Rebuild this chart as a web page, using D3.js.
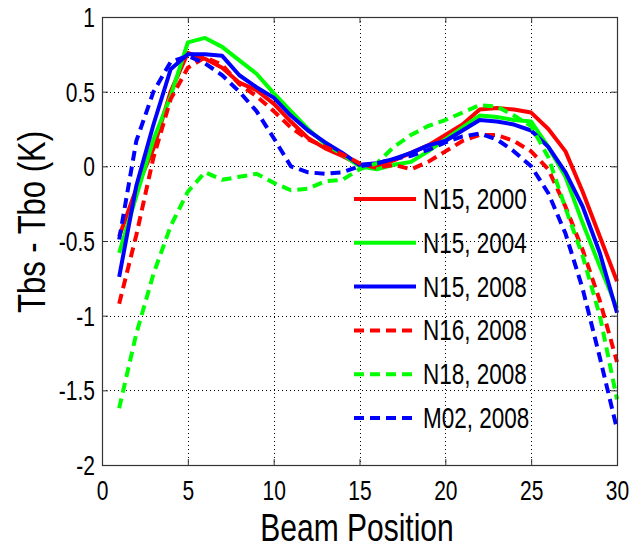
<!DOCTYPE html>
<html>
<head>
<meta charset="utf-8">
<script src="https://cdn.jsdelivr.net/npm/d3@7"></script>
<style>
  html, body { margin: 0; padding: 0; background: #fff; }
  svg { display: block; }
  text { font-family: "Liberation Sans", Arial, Helvetica, sans-serif; fill: #000; }
</style>
</head>
<body>
<svg id="chart" width="633" height="549"></svg>
<script>
// Beam positions 1..30
const beams = d3.range(1, 31);

// Tbs - Tbo (K) per beam position
const n15_2000 = [-0.47, -0.15, 0.12, 0.50, 0.76, 0.72, 0.66, 0.56, 0.51, 0.42,
                  0.30, 0.19, 0.12, 0.07, 0.01, 0.00, 0.04, 0.09, 0.14, 0.21,
                  0.28, 0.38, 0.39, 0.38, 0.36, 0.25, 0.10, -0.17, -0.47, -0.77];
const n15_2004 = [-0.58, -0.20, 0.18, 0.47, 0.83, 0.86, 0.80, 0.71, 0.62, 0.49,
                  0.37, 0.25, 0.15, 0.08, 0.00, -0.02, 0.01, 0.03, 0.10, 0.18,
                  0.26, 0.34, 0.33, 0.31, 0.30, 0.13, -0.07, -0.38, -0.67, -0.95];
const n15_2008 = [-0.74, -0.13, 0.28, 0.65, 0.75, 0.75, 0.74, 0.61, 0.53, 0.46,
                  0.34, 0.24, 0.16, 0.09, 0.01, 0.02, 0.05, 0.09, 0.14, 0.17,
                  0.24, 0.31, 0.30, 0.28, 0.24, 0.13, -0.04, -0.27, -0.58, -0.98];
const n16_2008 = [-0.92, -0.46, 0.06, 0.45, 0.66, 0.73, 0.68, 0.55, 0.47, 0.37,
                  0.26, 0.18, 0.13, 0.08, 0.02, -0.01, 0.01, -0.02, 0.03, 0.10,
                  0.17, 0.21, 0.21, 0.17, 0.10, -0.02, -0.27, -0.56, -0.90, -1.31];
const n18_2008 = [-1.62, -1.12, -0.72, -0.40, -0.17, -0.04, -0.09, -0.07, -0.05, -0.11,
                  -0.16, -0.15, -0.10, -0.09, -0.02, 0.02, 0.13, 0.21, 0.27, 0.31,
                  0.36, 0.41, 0.40, 0.34, 0.27, 0.06, -0.28, -0.60, -1.00, -1.56];
const m02_2008 = [-0.49, 0.17, 0.50, 0.70, 0.74, 0.69, 0.61, 0.50, 0.37, 0.19,
                  0.00, -0.04, -0.05, -0.04, 0.00, 0.02, 0.05, 0.07, 0.11, 0.16,
                  0.20, 0.22, 0.18, 0.10, 0.00, -0.18, -0.45, -0.82, -1.28, -1.76];

const seriesNames  = ["N15, 2000", "N15, 2004", "N15, 2008", "N16, 2008", "N18, 2008", "M02, 2008"];
const seriesValues = [n15_2000, n15_2004, n15_2008, n16_2008, n18_2008, m02_2008];
const seriesColors = ["#ff0000", "#00ff00", "#0000ff", "#ff0000", "#00ff00", "#0000ff"];
const seriesDashed = [false, false, false, true, true, true];

const xTicks = [0, 5, 10, 15, 20, 25, 30];
const yTicks = [1, 0.5, 0, -0.5, -1, -1.5, -2];
const yTickLabels = ["1", "0.5", "0", "-0.5", "-1", "-1.5", "-2"];

// glyphs are drawn tall and narrow: stretch every label along its height
const STRETCH = 1.28;

const svg = d3.select("#chart");
const plot = { left: 102, right: 617, top: 17, bottom: 465 };

const x = d3.scaleLinear().domain([0, 30]).range([plot.left, plot.right]);
const y = d3.scaleLinear().domain([-2, 1]).range([plot.bottom, plot.top]);

// dotted grid
const grid = svg.append("g").attr("stroke", "#000").attr("stroke-width", 1)
  .attr("stroke-dasharray", "1,3");
xTicks.slice(1, -1).forEach(t => {
  grid.append("line").attr("x1", Math.round(x(t)) + 0.5).attr("x2", Math.round(x(t)) + 0.5)
    .attr("y1", plot.top).attr("y2", plot.bottom);
});
yTicks.slice(1, -1).forEach(t => {
  grid.append("line").attr("y1", Math.round(y(t)) + 0.5).attr("y2", Math.round(y(t)) + 0.5)
    .attr("x1", plot.left).attr("x2", plot.right);
});

// data lines
const line = d3.line().x((d, i) => x(beams[i])).y(d => y(d));
const lines = svg.append("g").attr("fill", "none");
seriesValues.forEach((vals, i) => {
  lines.append("path")
    .attr("d", line(vals))
    .attr("stroke", seriesColors[i])
    .attr("stroke-width", 4)
    .attr("stroke-linejoin", "round")
    .attr("stroke-dasharray", seriesDashed[i] ? "10,6" : null);
});

// axes with inward ticks on all four sides
const axisStyle = g => {
  g.select(".domain").remove();
  g.selectAll(".tick line").attr("stroke", "#333");
};
const gx = svg.append("g").attr("transform", `translate(0,${plot.bottom})`)
  .call(d3.axisBottom(x).tickValues(xTicks).tickSizeInner(-6).tickSizeOuter(0))
  .call(axisStyle);
gx.selectAll(".tick text")
  .attr("y", null).attr("dy", null)
  .attr("font-size", 21)
  .attr("transform", `translate(0,35) scale(1,${STRETCH})`);

svg.append("g").attr("transform", `translate(0,${plot.top})`)
  .call(d3.axisTop(x).tickValues(xTicks).tickSizeInner(-6).tickSizeOuter(0).tickFormat(""))
  .call(axisStyle);

const gy = svg.append("g").attr("transform", `translate(${plot.left},0)`)
  .call(d3.axisLeft(y).tickValues(yTicks).tickSizeInner(-6).tickSizeOuter(0)
    .tickFormat((d, i) => yTickLabels[i]))
  .call(axisStyle);
gy.selectAll(".tick text")
  .attr("x", null).attr("dy", null)
  .attr("font-size", 21)
  .attr("transform", `translate(-7,9.5) scale(1,${STRETCH})`);

svg.append("g").attr("transform", `translate(${plot.right},0)`)
  .call(d3.axisRight(y).tickValues(yTicks).tickSizeInner(-6).tickSizeOuter(0).tickFormat(""))
  .call(axisStyle);

// frame
svg.append("rect")
  .attr("x", plot.left + 0.5).attr("y", plot.top + 0.5)
  .attr("width", plot.right - plot.left).attr("height", plot.bottom - plot.top)
  .attr("fill", "none").attr("stroke", "#333").attr("stroke-width", 1.2);

// legend
const legend = svg.append("g");
seriesNames.forEach((name, i) => {
  const ly = 199 + i * 43.8;
  legend.append("line")
    .attr("x1", 354).attr("x2", 416).attr("y1", ly).attr("y2", ly)
    .attr("stroke", seriesColors[i]).attr("stroke-width", 4)
    .attr("stroke-dasharray", seriesDashed[i] ? "10,6" : null);
  legend.append("text")
    .attr("transform", `translate(423,${ly + 10}) scale(1,${STRETCH})`)
    .attr("font-size", 22.5)
    .text(name);
});

// axis titles
svg.append("text")
  .attr("transform", `translate(357,541) scale(1,${STRETCH})`)
  .attr("text-anchor", "middle")
  .attr("font-size", 30)
  .text("Beam Position");
svg.append("text")
  .attr("transform", `translate(45,222) rotate(-90) scale(1,${STRETCH})`)
  .attr("text-anchor", "middle")
  .attr("font-size", 31)
  .text("Tbs - Tbo (K)");
</script>
</body>
</html>
